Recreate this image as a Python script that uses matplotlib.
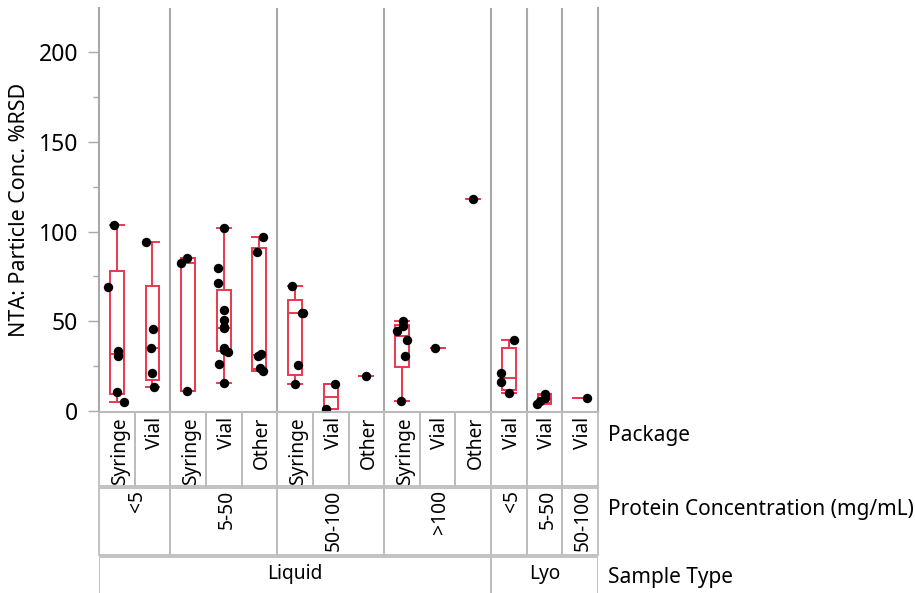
import numpy as np
import matplotlib
matplotlib.use('Agg')
import matplotlib.pyplot as plt
from matplotlib.patches import Rectangle

plt.rcParams['font.family'] = ['Noto Sans', 'DejaVu Sans']

# one entry per column (left to right)
package = ['Syringe', 'Vial', 'Syringe', 'Vial', 'Other', 'Syringe', 'Vial', 'Other',
           'Syringe', 'Vial', 'Other', 'Vial', 'Vial', 'Vial']
conc_labels = ['<5', '5-50', '50-100', '>100', '<5', '5-50', '50-100']
conc_ncols = [2, 3, 3, 3, 1, 1, 1]
sample_labels = ['Liquid', 'Lyo']
sample_ncols = [11, 3]

# %RSD values per column
values = [
    [103.6, 69.3, 33.4, 30.6, 10.8, 4.8],
    [94.3, 45.5, 34.9, 21.4, 13.2],
    [82.3, 85.0, 11.3],
    [101.8, 79.5, 71.1, 56.3, 50.7, 47.0, 46.1, 34.9, 34.0, 33.0, 26.5, 15.4],
    [96.7, 88.7, 31.6, 30.8, 23.8, 22.5],
    [69.6, 54.6, 54.4, 25.6, 15.0],
    [15.0, 0.9],
    [19.7],
    [50.3, 47.5, 44.4, 39.6, 30.8, 5.8],
    [35.1],
    [118.1],
    [39.6, 21.0, 16.2, 10.2],
    [9.3, 7.4, 5.6, 3.9],
    [7.4],
]
# horizontal jitter of the points (fraction of a column)
jitter = [
    [-0.07, -0.25, 0.03, 0.03, 0.0, 0.21],
    [-0.19, 0.02, -0.05, 0.0, 0.04],
    [-0.20, -0.03, -0.03],
    [0.0, -0.17, -0.17, 0.0, 0.0, 0.0, 0.0, 0.0, 0.01, 0.11, -0.13, 0.0],
    [0.09, -0.08, 0.04, -0.04, 0.02, 0.09],
    [-0.08, 0.22, 0.20, 0.09, 0.0],
    [0.12, -0.13],
    [0.0],
    [0.04, 0.03, -0.15, 0.13, 0.09, -0.03],
    [-0.08],
    [0.0],
    [0.15, -0.23, -0.23, 0.0],
    [0.01, 0.0, -0.13, -0.22],
    [0.2],
]

red = '#E8384F'
grid_gray = '#A8A8A8'
cell_gray = '#BDBDBD'

W, H = 915, 593
fig = plt.figure(figsize=(W / 100, H / 100), dpi=100)
ax = fig.add_axes([99 / W, 1 - 412 / H, 499 / W, 404 / H])

bw = 0.195
for i, v in enumerate(values):
    v = np.array(v)
    xc = i + 0.5
    q1, med, q3 = np.percentile(v, [25, 50, 75], method='weibull')
    iqr = q3 - q1
    hi = v[v <= q3 + 1.5 * iqr].max()
    lo = v[v >= q1 - 1.5 * iqr].min()
    ax.add_patch(Rectangle((xc - bw, q1), 2 * bw, q3 - q1, fill=False,
                           edgecolor=red, lw=1.4, zorder=3))
    ax.plot([xc - bw, xc + bw], [med, med], color=red, lw=1.4, zorder=3)
    if len(v) > 1:
        ax.plot([xc, xc], [q3, hi], color=red, lw=1.4, zorder=3)
        ax.plot([xc, xc], [lo, q1], color=red, lw=1.4, zorder=3)
        ax.plot([xc - bw, xc + bw], [hi, hi], color=red, lw=1.4, zorder=3)
        ax.plot([xc - bw, xc + bw], [lo, lo], color=red, lw=1.4, zorder=3)
    ax.scatter(xc + np.array(jitter[i]), v, s=46, color='black', zorder=4,
               linewidths=0)

# group dividers inside the plot
edges = np.cumsum(conc_ncols)
for e in edges[:-1]:
    ax.axvline(e, color=grid_gray, lw=1.5, zorder=1)

ax.set_xlim(0, 14)
ax.set_ylim(-0.5, 224.5)
ax.set_xticks([])
ax.set_yticks([0, 50, 100, 150, 200])
ax.set_yticks([25, 75, 125, 175], minor=True)
ax.tick_params(axis='y', which='major', length=8, width=1, color=grid_gray,
               labelsize=16.5, pad=7)
ax.tick_params(axis='y', which='minor', length=4.5, width=1, color=grid_gray)
ax.spines['top'].set_visible(False)
for s in ['left', 'right', 'bottom']:
    ax.spines[s].set_color(grid_gray)
    ax.spines[s].set_linewidth(1.5)
ax.set_ylabel('NTA: Particle Conc. %RSD', fontsize=15.5, labelpad=6)

# label area below the plot (y in pixels below the plot bottom)
lax = fig.add_axes([99 / W, 0, 499 / W, 181 / H])
lax.set_xlim(0, 14)
lax.set_ylim(181, 0)
lax.axis('off')

for i, p in enumerate(package):
    lax.add_patch(Rectangle((i, 0), 1, 74, fill=False, edgecolor=cell_gray,
                            lw=1.3, clip_on=False))
    lax.text(i + 0.58, 5, p, rotation=90, ha='center', va='top', fontsize=13.8)

start = 0
for lab, n in zip(conc_labels, conc_ncols):
    lax.add_patch(Rectangle((start, 76), n, 67, fill=False, edgecolor=cell_gray,
                            lw=1.3, clip_on=False))
    lax.text(start + n / 2 + 0.08, 78, lab, rotation=90, ha='center', va='top',
             fontsize=13.8)
    start += n

start = 0
for lab, n in zip(sample_labels, sample_ncols):
    lax.add_patch(Rectangle((start, 145), n, 60, fill=False, edgecolor=cell_gray,
                            lw=1.3, clip_on=True))
    lax.text(start + n / 2, 162, lab, ha='center', va='center', fontsize=13.8)
    start += n

fig.text(608 / W, 1 - 435 / H, 'Package', ha='left', va='center', fontsize=15)
fig.text(608 / W, 1 - 509 / H, 'Protein Concentration (mg/mL)', ha='left',
         va='center', fontsize=15)
fig.text(608 / W, 1 - 578 / H, 'Sample Type', ha='left', va='center', fontsize=15)

fig.savefig('out.png', dpi=100)
